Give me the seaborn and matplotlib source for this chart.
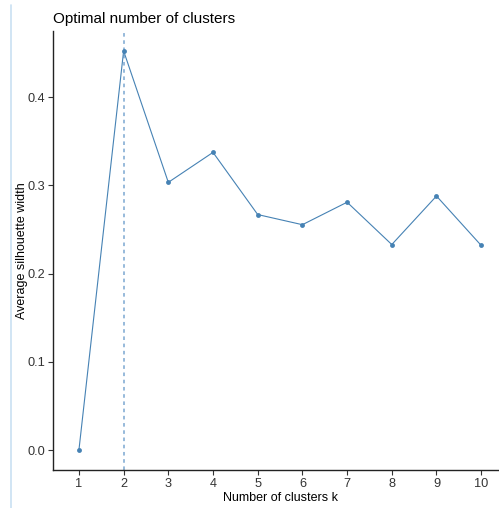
import numpy as np
import pandas as pd
import matplotlib
matplotlib.use('Agg')
import matplotlib.pyplot as plt
import seaborn as sns
from matplotlib.lines import Line2D

k_values = [1, 2, 3, 4, 5, 6, 7, 8, 9, 10]
sil_width = [0.0, 0.4525, 0.3035, 0.3375, 0.2670, 0.2555, 0.2810, 0.2330, 0.2880, 0.2320]
optimal_k = 2
tick_labels = [str(k) for k in k_values]

df = pd.DataFrame({'k': k_values, 'sil': sil_width})

sns.set_style('white')
plt.rcParams['font.family'] = ['Liberation Sans', 'DejaVu Sans']

fig = plt.figure(figsize=(4.99, 5.08), dpi=100)
W, H = 499, 508
ax = fig.add_axes([53 / W, 1 - 470 / H, (508 - 53) / W, (470 - 31) / H])

line_col = '#4682B4'
ax.axvline(optimal_k, color='#8fb4d8', linestyle=(0, (2, 2)), linewidth=1.3)
sns.lineplot(data=df, x='k', y='sil', ax=ax, color=line_col, linewidth=0.8,
             marker='o', markersize=3.5, markeredgewidth=0, alpha=1)

ax.set_xlim(0.42, 10.6)
ax.set_ylim(-0.0226, 0.4751)
ax.set_xticks(k_values)
ax.set_xticklabels(tick_labels)
ax.set_yticks([0.0, 0.1, 0.2, 0.3, 0.4])
ax.set_yticklabels(['0.0', '0.1', '0.2', '0.3', '0.4'])
ax.tick_params(axis='both', bottom=True, left=True, labelsize=9.2, color='#333333',
               length=3.5, width=0.8, labelcolor='#333333', pad=2)
for s in ['top', 'right']:
    ax.spines[s].set_visible(False)
for s in ['left', 'bottom']:
    ax.spines[s].set_color('#222222')
    ax.spines[s].set_linewidth(1.0)

ax.set_xlabel('Number of clusters k', fontsize=9, color='black', labelpad=2)
ax.set_ylabel('Average silhouette width', fontsize=9, color='black')
ax.yaxis.set_label_coords((28.5 - 53) / 455, 0.5)
ax.set_title('Optimal number of clusters', fontsize=11, color='black', loc='left', pad=6)

fig.add_artist(Line2D([11 / W, 11 / W], [0, 1 - 5 / H], transform=fig.transFigure,
                      color='#c9e0f2', linewidth=1.2))

fig.savefig('out.png', dpi=100)
